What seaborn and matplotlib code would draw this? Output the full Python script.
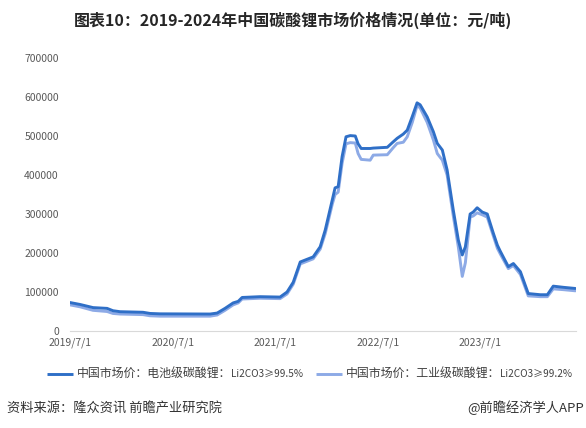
import matplotlib
matplotlib.use("Agg")
import matplotlib.pyplot as plt
from matplotlib.lines import Line2D
import seaborn as sns
import pandas as pd

dates = [
    "2019-07-01", "2019-08-06", "2019-09-21", "2019-11-10", "2019-12-01",
    "2019-12-26", "2020-03-17", "2020-04-11", "2020-05-17", "2020-11-11",
    "2020-12-06", "2021-01-03", "2021-02-01", "2021-02-19", "2021-03-05",
    "2021-05-08", "2021-07-18", "2021-08-12", "2021-09-03", "2021-09-28",
    "2021-11-13", "2021-12-08", "2021-12-26", "2022-01-20", "2022-01-30",
    "2022-02-10", "2022-02-24", "2022-03-10", "2022-03-25", "2022-04-12",
    "2022-04-22", "2022-05-03", "2022-06-04", "2022-06-15", "2022-08-04",
    "2022-08-25", "2022-09-08", "2022-09-30", "2022-10-14", "2022-11-01",
    "2022-11-18", "2022-11-29", "2022-12-24", "2023-01-15", "2023-01-29",
    "2023-02-16", "2023-03-05", "2023-03-27", "2023-04-14", "2023-04-28",
    "2023-05-09", "2023-05-26", "2023-06-06", "2023-06-20", "2023-07-08",
    "2023-07-26", "2023-08-16", "2023-08-31", "2023-09-10", "2023-10-09",
    "2023-10-27", "2023-11-21", "2023-12-19", "2024-01-31", "2024-02-25",
    "2024-03-17", "2024-04-22", "2024-06-04",
]
battery = [
    73000, 68000, 60000, 58000, 52000,
    49500, 48000, 45000, 44000, 43500,
    46000, 58000, 72000, 76000, 86000,
    88000, 87000, 100000, 125000, 177000,
    190000, 216000, 259000, 336000, 367000,
    370000, 447000, 498000, 501000, 500000,
    480000, 468000, 468000, 469000, 471000,
    485000, 494000, 505000, 515000, 550000,
    585000, 580000, 549000, 511000, 481000,
    464000, 413000, 310000, 233000, 195000,
    216000, 300000, 305000, 316000, 305000,
    300000, 252000, 220000, 205000, 165000,
    173000, 152000, 96000, 93000, 93000,
    115000, 112000, 109000,
]
industrial = [
    67000, 62000, 53000, 50000, 45000,
    43500, 42000, 39000, 38000, 38000,
    41000, 53000, 67000, 72000, 82000,
    84000, 83000, 95000, 120000, 172000,
    185000, 210000, 250000, 325000, 350000,
    356000, 430000, 480000, 483000, 482000,
    455000, 440000, 438000, 451000, 452000,
    470000, 481000, 484000, 498000, 535000,
    578000, 572000, 535000, 490000, 455000,
    438000, 400000, 295000, 215000, 140000,
    175000, 292000, 295000, 303000, 298000,
    292000, 245000, 212000, 198000, 160000,
    168000, 145000, 90000, 88000, 88000,
    108000, 106000, 103000,
]
label_cn = ["中国市场价：电池级碳酸锂：", "中国市场价：工业级碳酸锂："]
label_spec = ["Li2CO3≥99.5%", "Li2CO3≥99.2%"]
series_names = [label_cn[0] + label_spec[0], label_cn[1] + label_spec[1]]
yticks = [0, 100000, 200000, 300000, 400000, 500000, 600000, 700000]
xticks = ["2019-07-01", "2020-07-01", "2021-07-01", "2022-07-01", "2023-07-01"]
xticklabels = ["2019/7/1", "2020/7/1", "2021/7/1", "2022/7/1", "2023/7/1"]

sns.set_theme(style="white")
plt.rcParams["font.family"] = ["Noto Sans CJK SC", "DejaVu Sans"]

df = pd.DataFrame({
    "date": pd.to_datetime(dates * 2),
    "value": battery + industrial,
    "series": [series_names[0]] * len(dates) + [series_names[1]] * len(dates),
})

W, H = 586, 428
fig = plt.figure(figsize=(W / 100, H / 100), dpi=100)
ax = fig.add_axes([70 / W, 1 - 331 / H, 506 / W, 273 / H])
colors = {series_names[0]: "#2F6FC7", series_names[1]: "#8DAAE6"}
for name in [series_names[1], series_names[0]]:
    sns.lineplot(data=df[df["series"] == name], x="date", y="value", color=colors[name],
                 linewidth=2.1, ax=ax, legend=False)

ax.set_ylim(0, 700000)
ax.set_xlim(pd.Timestamp("2019-07-01"), pd.Timestamp("2024-06-06"))
ax.set_yticks(yticks)
ax.set_yticklabels([str(v) for v in yticks], fontsize=7.5, color="#595959")
ax.set_xticks(pd.to_datetime(xticks))
ax.set_xticklabels(xticklabels, fontsize=7.5, color="#595959")
ax.tick_params(axis="y", length=0, pad=8)
ax.tick_params(axis="x", length=0, pad=5)
ax.set_xlabel("")
ax.set_ylabel("")
for s in ["top", "right", "left"]:
    ax.spines[s].set_visible(False)
ax.spines["bottom"].set_color("#D9D9D9")
ax.spines["bottom"].set_linewidth(0.8)
ax.grid(False)

fig.text(293 / W, 1 - 20 / H, "图表10：2019-2024年中国碳酸锂市场价格情况(单位：元/吨)", ha="center", va="center",
         fontsize=11.5, fontweight="bold", color="#262626")

# legend drawn as figure artists
renderer = fig.canvas.get_renderer()
ly = 1 - 374 / H
for i, (x0, name) in enumerate([(47, series_names[0]), (316, series_names[1])]):
    fig.add_artist(Line2D([x0 / W, (x0 + 26) / W], [ly, ly], transform=fig.transFigure,
                          color=colors[name], lw=2.1, solid_capstyle="butt"))
    t = fig.text((x0 + 30) / W, ly, label_cn[i], ha="left", va="center", fontsize=8.6, color="#404040")
    bb = t.get_window_extent(renderer=renderer)
    fig.text(bb.x1 / W, ly, label_spec[i], ha="left", va="center", fontsize=7.2, color="#404040")

fig.text(7 / W, 1 - 408 / H, "资料来源：隆众资讯 前瞻产业研究院", ha="left", va="center", fontsize=9.5, color="#333333")
fig.text(584 / W, 1 - 408 / H, "@前瞻经济学人APP", ha="right", va="center", fontsize=9.5, color="#333333")

fig.savefig("out.png", dpi=100)
